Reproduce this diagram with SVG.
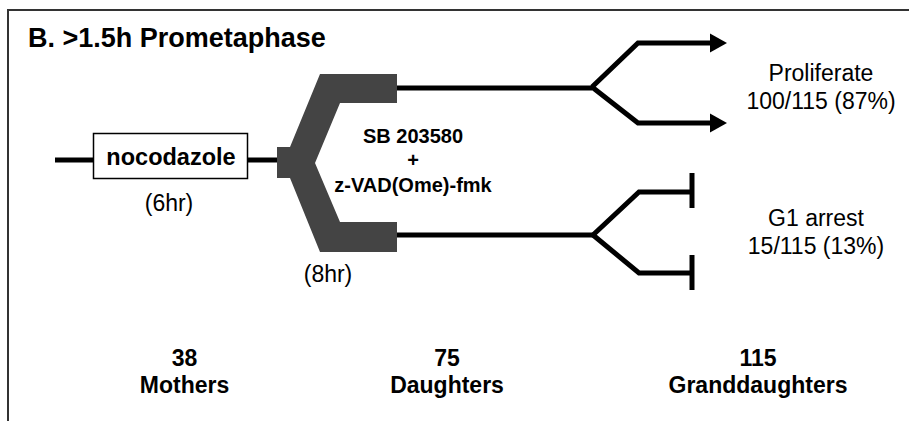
<svg xmlns="http://www.w3.org/2000/svg" width="909" height="421" viewBox="0 0 909 421">
<style>
.b{font-family:"Liberation Sans",Arial,sans-serif;font-weight:bold;fill:#000;text-anchor:middle}
.r{font-family:"Liberation Sans",Arial,sans-serif;fill:#000;text-anchor:middle}
.ln{fill:none;stroke:#000;stroke-width:5;stroke-linejoin:miter}
</style>
<defs>
<marker id="arr" markerUnits="userSpaceOnUse" markerWidth="20" markerHeight="22" refX="2" refY="10" orient="auto">
<path d="M0,0.5 L17,10 L0,19.5 Z" fill="#000"/>
</marker>
</defs>
<rect width="909" height="421" fill="#fff"/>
<path d="M8,421 V10 H909" fill="none" stroke="#333" stroke-width="2"/>
<text class="b" x="28" y="47" font-size="27" style="text-anchor:start">B. &gt;1.5h Prometaphase</text>
<g id="connectors">
<path class="ln" d="M55,160 H93"/>
<path class="ln" d="M248,160 H278"/>
<path class="ln" d="M396,88 H592"/>
<path class="ln" d="M396,235 H593"/>
<path class="ln" d="M592,87 L638,43 H712" marker-end="url(#arr)"/>
<path class="ln" d="M592,87 L638,123 H712" marker-end="url(#arr)"/>
<path class="ln" d="M593,235 L639,192 H692"/>
<path class="ln" d="M692,173 V208"/>
<path class="ln" d="M593,235 L639,273 H692"/>
<path class="ln" d="M692,255 V290"/>
</g>
<g id="nocodazole">
<rect x="93.5" y="133.5" width="154" height="45" fill="#fff" stroke="#000" stroke-width="1.5"/>
<text class="b" x="171" y="165" font-size="23.5">nocodazole</text>
<text class="r" x="169" y="211" font-size="23">(6hr)</text>
</g>
<g id="fork">
<polygon points="277,147 290,147 320,74 397,74 397,103 340,103 315,163 340,222 397,222 397,252 320,252 290,178 277,178" fill="#444"/>
<text class="r" x="328" y="282" font-size="23">(8hr)</text>
</g>
<g id="treatment">
<text class="b" x="413" y="143" font-size="20">SB 203580</text>
<text class="b" x="413" y="167" font-size="20">+</text>
<text class="b" x="413" y="192" font-size="20">z-VAD(Ome)-fmk</text>
</g>
<g id="proliferate">
<text class="r" x="821" y="81" font-size="23">Proliferate</text>
<text class="r" x="821" y="109" font-size="23">100/115 (87%)</text>
</g>
<g id="g1arrest">
<text class="r" x="816" y="226" font-size="23">G1 arrest</text>
<text class="r" x="816" y="254" font-size="23">15/115 (13%)</text>
</g>
<g id="mothers">
<text class="b" x="184.5" y="366" font-size="23">38</text>
<text class="b" x="184.5" y="393" font-size="23">Mothers</text>
</g>
<g id="daughters">
<text class="b" x="447" y="366" font-size="23">75</text>
<text class="b" x="447" y="393" font-size="23">Daughters</text>
</g>
<g id="granddaughters">
<text class="b" x="758" y="366" font-size="23">115</text>
<text class="b" x="758" y="393" font-size="23">Granddaughters</text>
</g>
</svg>
